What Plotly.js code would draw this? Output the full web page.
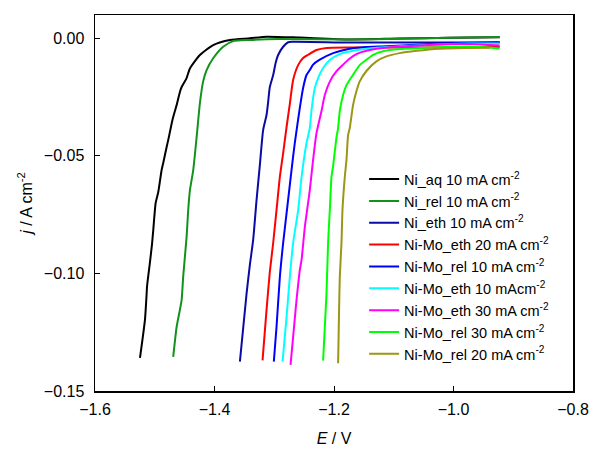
<!DOCTYPE html>
<html>
<head>
<meta charset="utf-8">
<script src="https://cdn.plot.ly/plotly-3.0.1.min.js"></script>
<style>html,body{margin:0;padding:0;background:#fff;}#chart{width:589px;height:450px;}</style>
</head>
<body>
<div id="chart"></div>
<script>
// Series names
const seriesNames = [
  "Ni_aq 10 mA cm<sup>-2</sup>",
  "Ni_rel 10 mA cm<sup>-2</sup>",
  "Ni_eth 10 mA cm<sup>-2</sup>",
  "Ni-Mo_eth 20 mA cm<sup>-2</sup>",
  "Ni-Mo_rel 10 mA cm<sup>-2</sup>",
  "Ni-Mo_eth 10 mAcm<sup>-2</sup>",
  "Ni-Mo_eth 30 mA cm<sup>-2</sup>",
  "Ni-Mo_rel 30 mA cm<sup>-2</sup>",
  "Ni-Mo_rel 20 mA cm<sup>-2</sup>"
];
const seriesColors = ["#000000", "#12921a", "#0a0aa6", "#ff0000", "#0000ff", "#00ffff", "#ff00ff", "#00ff00", "#9c9616"];

// E / V values
const niAqE = [-1.5247,-1.5164,-1.5135,-1.5130,-1.5080,-1.5047,-1.5025,-1.4985,-1.4941,-1.4885,-1.4858,-1.4801,-1.4774,-1.4696,-1.4634,-1.4579,-1.4550,-1.4467,-1.4411,-1.4244,-1.4022,-1.3742,-1.3408,-1.3124,-1.2572,-1.1736,-1.0900,-1.0064,-0.9227];
const niAqJ = [-0.1359,-0.1198,-0.1083,-0.1058,-0.0952,-0.0879,-0.0816,-0.0701,-0.0654,-0.0561,-0.0531,-0.0463,-0.0433,-0.0340,-0.0285,-0.0229,-0.0208,-0.0170,-0.0129,-0.0072,-0.0030,-0.0008,-0.0001,0.0006,0.0002,-0.0006,-0.0002,0.0001,0.0003];

const niRelE = [-1.4691,-1.4634,-1.4579,-1.4550,-1.4523,-1.4467,-1.4440,-1.4411,-1.4356,-1.4299,-1.4244,-1.4189,-1.4132,-1.4022,-1.3855,-1.3687,-1.3408,-1.2906,-1.1736,-1.0900,-1.0064,-0.9227];
const niRelJ = [-0.1355,-0.1228,-0.1155,-0.1113,-0.1011,-0.0845,-0.0731,-0.0646,-0.0561,-0.0421,-0.0276,-0.0183,-0.0136,-0.0086,-0.0037,-0.0013,-0.0008,-0.0004,-0.0006,-0.0003,0.0001,0.0005];

const niEthE = [-1.3575,-1.3463,-1.3408,-1.3353,-1.3296,-1.3241,-1.3186,-1.3129,-1.3102,-1.3074,-1.3018,-1.2973,-1.2935,-1.2851,-1.2768,-1.2684,-1.1736,-1.0565,-0.9227];
const niEthJ = [-0.1375,-0.1085,-0.0964,-0.0858,-0.0688,-0.0540,-0.0391,-0.0327,-0.0271,-0.0208,-0.0157,-0.0102,-0.0072,-0.0037,-0.0018,-0.0016,-0.0019,-0.0019,-0.0019];

const niMoEth20E = [-1.3196,-1.3129,-1.3074,-1.3018,-1.2962,-1.2906,-1.2851,-1.2794,-1.2739,-1.2684,-1.2600,-1.2517,-1.2433,-1.2293,-1.2126,-1.1736,-1.0565,-0.9227];
const niMoEth20J = [-0.1370,-0.1155,-0.0994,-0.0871,-0.0731,-0.0590,-0.0489,-0.0378,-0.0280,-0.0178,-0.0115,-0.0085,-0.0071,-0.0051,-0.0042,-0.0040,-0.0040,-0.0038];

const niMoRel10E = [-1.3007,-1.2962,-1.2906,-1.2851,-1.2768,-1.2711,-1.2656,-1.2572,-1.2517,-1.2460,-1.2405,-1.2350,-1.2238,-1.2015,-1.1736,-1.1457,-1.1122,-1.0620,-0.9896,-0.9227];
const niMoRel10J = [-0.1375,-0.1228,-0.1015,-0.0871,-0.0688,-0.0561,-0.0446,-0.0297,-0.0212,-0.0157,-0.0136,-0.0113,-0.0092,-0.0064,-0.0045,-0.0038,-0.0035,-0.0028,-0.0021,-0.0018];

const niMoEth10E = [-1.2861,-1.2794,-1.2739,-1.2684,-1.2600,-1.2543,-1.2460,-1.2405,-1.2376,-1.2321,-1.2266,-1.2182,-1.2070,-1.1903,-1.1681,-1.1346,-1.0900,-1.0343,-0.9729,-0.9227];
const niMoEth10J = [-0.1375,-0.1185,-0.1015,-0.0871,-0.0731,-0.0590,-0.0446,-0.0382,-0.0306,-0.0212,-0.0170,-0.0127,-0.0093,-0.0068,-0.0054,-0.0042,-0.0035,-0.0028,-0.0023,-0.0023];

const niMoEth30E = [-1.2727,-1.2684,-1.2627,-1.2572,-1.2543,-1.2488,-1.2405,-1.2350,-1.2293,-1.2209,-1.2154,-1.2070,-1.1958,-1.1848,-1.1736,-1.1624,-1.1457,-1.1179,-1.0788,-1.0343,-0.9729,-0.9395,-0.9227];
const niMoEth30J = [-0.1389,-0.1270,-0.1113,-0.0986,-0.0943,-0.0803,-0.0646,-0.0518,-0.0404,-0.0310,-0.0242,-0.0185,-0.0141,-0.0113,-0.0087,-0.0068,-0.0054,-0.0042,-0.0035,-0.0028,-0.0025,-0.0030,-0.0032];

const niMoRel30E = [-1.2182,-1.2154,-1.2125,-1.2099,-1.2070,-1.2042,-1.2015,-1.1958,-1.1931,-1.1903,-1.1848,-1.1791,-1.1681,-1.1569,-1.1457,-1.1346,-1.1179,-1.0900,-1.0343,-0.9729,-0.9227];
const niMoRel30J = [-0.1371,-0.1228,-0.1083,-0.0871,-0.0731,-0.0590,-0.0544,-0.0421,-0.0382,-0.0310,-0.0242,-0.0200,-0.0156,-0.0115,-0.0092,-0.0071,-0.0056,-0.0047,-0.0040,-0.0036,-0.0044];

const niMoRel20E = [-1.1931,-1.1915,-1.1903,-1.1875,-1.1858,-1.1819,-1.1791,-1.1764,-1.1736,-1.1681,-1.1624,-1.1569,-1.1457,-1.1290,-1.1122,-1.0900,-1.0620,-1.0231,-0.9729,-0.9395];
const niMoRel20J = [-0.1382,-0.1155,-0.1015,-0.0871,-0.0731,-0.0590,-0.0518,-0.0412,-0.0382,-0.0285,-0.0225,-0.0184,-0.0140,-0.0099,-0.0078,-0.0064,-0.0054,-0.0045,-0.0042,-0.0041];

const xTickVals = [-1.6, -1.4, -1.2, -1.0, -0.8];
const yTickVals = [0, -0.05, -0.10, -0.15];

const seriesE = [niAqE, niRelE, niEthE, niMoEth20E, niMoRel10E, niMoEth10E, niMoEth30E, niMoRel30E, niMoRel20E];
const seriesJ = [niAqJ, niRelJ, niEthJ, niMoEth20J, niMoRel10J, niMoEth10J, niMoEth30J, niMoRel30J, niMoRel20J];

const FONT = "Liberation Sans, Arial, sans-serif";

const traces = seriesNames.map((name, i) => ({
  x: seriesE[i],
  y: seriesJ[i],
  name: name,
  type: "scatter",
  mode: "lines",
  line: {color: seriesColors[i], width: 2, shape: "spline", smoothing: 0.6}
}));

const layout = {
  width: 589,
  height: 450,
  margin: {l: 95, r: 16, t: 15, b: 59},
  paper_bgcolor: "#ffffff",
  plot_bgcolor: "#ffffff",
  font: {family: FONT, size: 16, color: "#000"},
  showlegend: true,
  legend: {
    x: 0.563, y: 0.606, xanchor: "left", yanchor: "top",
    bgcolor: "rgba(0,0,0,0)",
    font: {family: FONT, size: 14.5, color: "#000"},
    tracegroupgap: 0,
    itemwidth: 30
  },
  xaxis: {
    range: [-1.6, -0.8],
    tickvals: xTickVals,
    tickformat: ".1f",
    ticks: "inside",
    ticklen: 5,
    tickwidth: 1,
    tickcolor: "#000",
    showline: true,
    linecolor: "#000",
    linewidth: 1.5,
    mirror: true,
    showgrid: false,
    zeroline: false,
    ticklabelstandoff: 3,
    tickfont: {family: FONT, size: 16, color: "#000"},
    title: {text: "<i>E</i> / V", font: {family: FONT, size: 16, color: "#000"}, standoff: 16}
  },
  yaxis: {
    range: [-0.15, 0.0098],
    tickvals: yTickVals,
    tickformat: ".2f",
    ticks: "inside",
    ticklen: 5,
    tickwidth: 1,
    tickcolor: "#000",
    showline: true,
    linecolor: "#000",
    linewidth: 1.5,
    mirror: true,
    showgrid: false,
    zeroline: false,
    ticklabelstandoff: 6,
    tickfont: {family: FONT, size: 16, color: "#000"},
    title: {text: "<i>j</i> / A cm<sup>-2</sup>", font: {family: FONT, size: 16, color: "#000"}, standoff: 7}
  }
};

Plotly.newPlot("chart", traces, layout, {displayModeBar: false, staticPlot: true});
</script>
</body>
</html>
